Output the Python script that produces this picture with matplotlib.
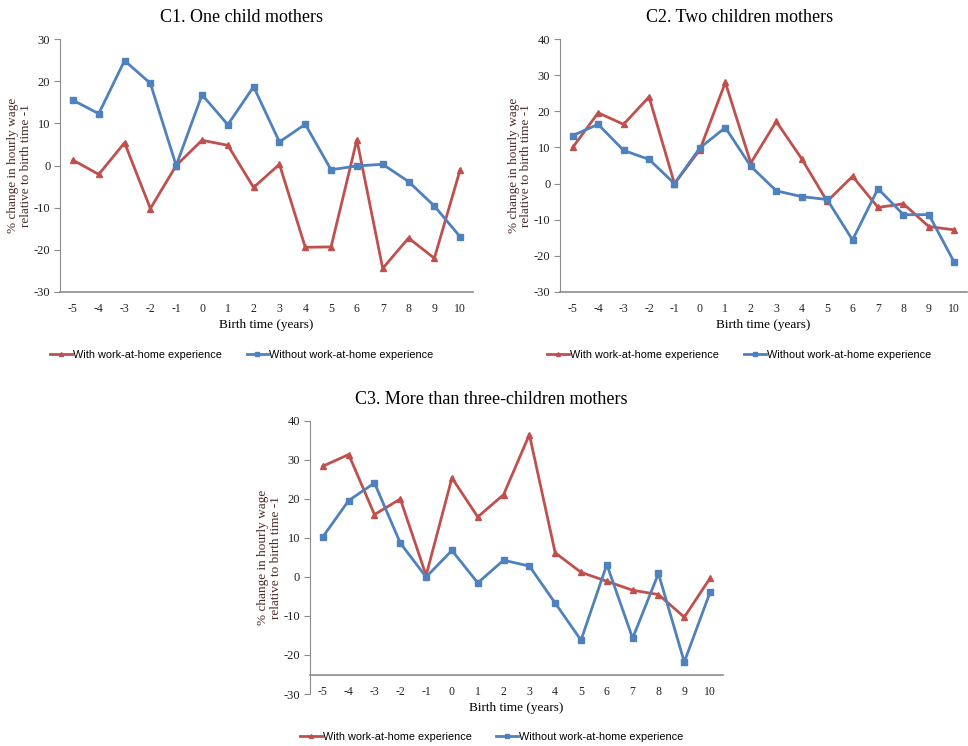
import matplotlib.pyplot as plt

plt.rcParams["axes.unicode_minus"] = False

years = list(range(-5, 11))

# C1. One child mothers
c1_with = [1.3, -2.1, 5.4, -10.2, 0, 6.0, 4.8, -5.2, 0.3, -19.4, -19.3, 6.1, -24.4, -17.2, -22.0, -1.0]
c1_without = [15.5, 12.3, 24.9, 19.5, 0, 16.8, 9.7, 18.7, 5.6, 9.8, -1.0, -0.1, 0.3, -3.8, -9.6, -16.9]

# C2. Two children mothers
c2_with = [10.0, 19.6, 16.4, 24.0, 0, 9.4, 28.0, 5.7, 17.2, 6.9, -4.9, 2.0, -6.6, -5.6, -11.9, -12.8]
c2_without = [13.3, 16.4, 9.2, 6.7, 0, 9.9, 15.5, 4.8, -2.0, -3.6, -4.4, -15.6, -1.4, -8.6, -8.6, -21.8]

# C3. More than three-children mothers
c3_with = [28.4, 31.4, 16.0, 20.0, 0.4, 25.4, 15.4, 21.1, 36.5, 6.2, 1.2, -1.1, -3.4, -4.5, -10.3, -0.3]
c3_without = [10.3, 19.6, 24.1, 8.7, 0, 6.8, -1.5, 4.3, 2.8, -6.7, -16.2, 3.2, -15.7, 0.9, -21.8, -3.9]

RED = "#C0504D"
BLUE = "#4F81BD"
AXIS_GRAY = "#8c8c8c"
SERIF = ["Liberation Serif", "DejaVu Serif"]
SANS = ["Liberation Sans", "DejaVu Sans"]


def draw_panel(fig, rect, title, with_vals, without_vals, ymax, xaxis_at, leg_y, title_pad):
    ax = fig.add_axes(rect)
    ax.plot(years, with_vals, color=RED, lw=2, marker="^", ms=4,
            label="With work-at-home experience")
    ax.plot(years, without_vals, color=BLUE, lw=2, marker="s", ms=4,
            label="Without work-at-home experience")
    ax.set_xlim(-5.5, 10.5)
    ax.set_ylim(-30, ymax)
    ax.set_yticks(range(-30, ymax + 1, 10))
    ax.set_xticks(years)
    for s in ("top", "right"):
        ax.spines[s].set_visible(False)
    # the third panel has its category axis crossing at -25
    ax.spines["bottom"].set_position(("data", xaxis_at))
    for s in ("left", "bottom"):
        ax.spines[s].set_color(AXIS_GRAY)
        ax.spines[s].set_linewidth(1.2 if s == "bottom" else 0.8)
    ax.tick_params(axis="y", length=4, color=AXIS_GRAY, labelsize=9, pad=3)
    ax.tick_params(axis="x", length=0, labelsize=8.5, pad=8)
    for lab in ax.get_xticklabels() + ax.get_yticklabels():
        lab.set_family(SERIF)
        lab.set_color("#222222")
    ax.set_xlabel("Birth time (years)", family=SERIF, fontsize=9.5, labelpad=3)
    ax.set_ylabel("% change in hourly wage\nrelative to birth time -1",
                  family=SERIF, fontsize=9.5, color="#4a2a2a", linespacing=1.05)
    ax.yaxis.set_label_coords(-0.068, 0.5)
    ax.set_title(title, family=SERIF, fontsize=13, x=0.44, pad=title_pad)
    ax.legend(loc="center", bbox_to_anchor=(0.44, leg_y), ncol=2,
              frameon=False, prop={"family": SANS, "size": 7.8},
              handlelength=2.0, handletextpad=0.1, columnspacing=2.3,
              markerscale=0.7)
    return ax


fig = plt.figure(figsize=(9.68, 7.46), dpi=100)
draw_panel(fig, [0.062, 0.6086, 0.4267, 0.339], "C1. One child mothers",
           c1_with, c1_without, 30, -30, -0.249, 12)
draw_panel(fig, [0.5785, 0.6086, 0.4205, 0.339], "C2. Two children mothers",
           c2_with, c2_without, 40, -30, -0.249, 12)
draw_panel(fig, [0.3202, 0.0697, 0.4267, 0.366], "C3. More than three-children mothers",
           c3_with, c3_without, 40, -25, -0.158, 12)

fig.savefig("out.png", dpi=100)
